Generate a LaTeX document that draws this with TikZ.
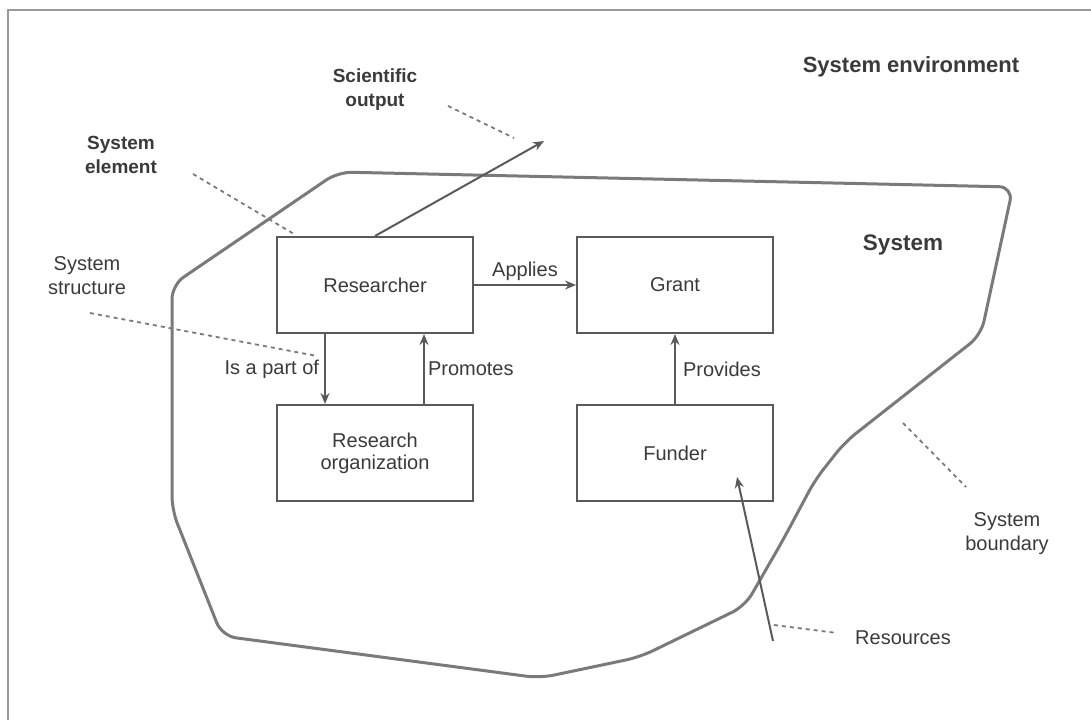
\documentclass[tikz,border=0pt]{standalone}
\usepackage{fontspec}
\setmainfont{Liberation Sans}
\usetikzlibrary{arrows.meta,calc}
\definecolor{txt}{HTML}{3A3A3A}
\definecolor{boxline}{HTML}{5A5A5A}
\definecolor{bnd}{HTML}{7A7A7A}
\definecolor{frm}{HTML}{9A9A9A}
\tikzset{
  box/.style={draw=boxline, line width=2pt, minimum width=196pt, minimum height=96pt, inner sep=0pt, text=txt, font=\fontsize{20}{23}\selectfont},
  arr/.style={draw=boxline, line width=2pt, -{Stealth[length=11pt,width=9pt]}},
  elabel/.style={text=txt, font=\fontsize{20}{23}\selectfont, inner sep=3pt},
  lab/.style={text=txt, font=\fontsize{20}{24}\selectfont, align=center, inner sep=0pt},
  blab/.style={text=txt, font=\fontsize{19}{24}\selectfont\bfseries, align=center, inner sep=0pt},
  pointer/.style={draw=bnd, line width=1.8pt, dash pattern=on 4pt off 4pt},
  boundary/.style={draw=bnd, line width=3pt, rounded corners=14pt},
  frame/.style={draw=frm, line width=2.5pt}
}
\begin{document}
\begin{tikzpicture}[x=1pt,y=-1pt]
\useasboundingbox (0,0) rectangle (1091,720);
% frame (top and left edges)
\coordinate (f1) at (1091,10);
\coordinate (f2) at (8,10);
\coordinate (f3) at (8,720);
\draw[frame] (f1) -- (f2) -- (f3);

% system boundary
\draw[boundary] (172,285) -- (338,172) -- (1013,187) -- (981,335) -- (845,442)
  -- (815,480) -- (783,540) -- (745,606) -- (640,657) -- (540,678)
  -- (222,636) -- (172,510) -- cycle;

% boxes
\node[box] (researcher) at (375,285) {Researcher};
\node[box] (grant) at (675,285) {Grant};
\node[box, align=center] (org) at (375,453) {Research\\[-1pt]organization};
\node[box] (funder) at (675,453) {Funder};

% connectors
\draw[arr] (researcher.east) -- (grant.west) node[midway, above, elabel] {Applies};
\draw[arr] ([xshift=-50pt]researcher.south) -- ([xshift=-50pt]org.north)
  node[midway, left, elabel, xshift=-2pt] {Is a part of};
\draw[arr] ([xshift=49pt]org.north) -- ([xshift=49pt]researcher.south)
  node[midway, right, elabel] {Promotes};
\draw[arr] (funder.north) -- (grant.south)
  node[midway, right, elabel, xshift=4pt] {Provides};
\coordinate (outtip) at (544,141);
\draw[arr] (researcher.north) -- (outtip);
\coordinate (resstart) at (773,641);
\coordinate (restip) at (737,477);
\draw[arr] (resstart) -- (restip);

% labels
\node[blab, font=\fontsize{22}{24}\selectfont\bfseries] (sysenv) at (911,67) {System environment};
\node[lab, font=\fontsize{22.5}{24}\selectfont\bfseries] (system) at (903,245) {System};
\node[blab] (sciout) at (375,90) {Scientific\\output};
\node[blab] (syselem) at (121,155) {System\\element};
\node[lab] (sysstruct) at (87,276) {System\\structure};
\node[lab] (sysbound) at (1007,534) {System\\boundary};
\node[lab] (resources) at (903,638) {Resources};

% pointer lines
\coordinate (p1a) at (448,106); \coordinate (p1b) at (514,138);
\draw[pointer] (p1a) -- (p1b);
\coordinate (p2a) at (193,174); \coordinate (p2b) at (294,234);
\draw[pointer] (p2a) -- (p2b);
\coordinate (p3a) at (90,313); \coordinate (p3b) at (317,356);
\draw[pointer] (p3a) -- (p3b);
\coordinate (p4a) at (903,423); \coordinate (p4b) at (966,487);
\draw[pointer] (p4a) -- (p4b);
\coordinate (p5a) at (774,625); \coordinate (p5b) at (837,633);
\draw[pointer] (p5a) -- (p5b);
\end{tikzpicture}
\end{document}
